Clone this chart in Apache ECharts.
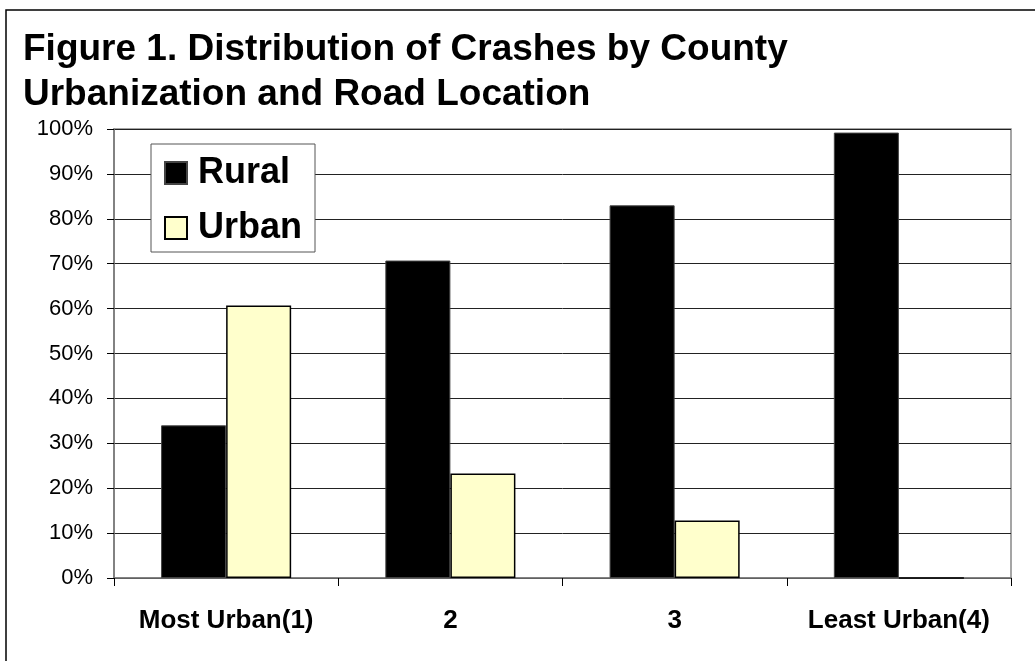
<!DOCTYPE html>
<html>
<head>
<meta charset="utf-8">
<script src="https://cdn.jsdelivr.net/npm/echarts@6/dist/echarts.min.js"></script>
<style>
html,body{margin:0;padding:0;background:#fff;}
#chart{width:1035px;height:661px;}
</style>
</head>
<body>
<div id="chart"></div>
<script>
const categories = ['Most Urban(1)', '2', '3', 'Least Urban(4)'];
const rural = [34, 70.7, 83, 99.2];
const urban = [60.7, 23.3, 12.8, 0];
const yTicks = [0, 10, 20, 30, 40, 50, 60, 70, 80, 90, 100];

const FONT = '"Liberation Sans", Arial, sans-serif';
const chart = echarts.init(document.getElementById('chart'));
chart.setOption({
  animation: false,
  backgroundColor: '#ffffff',
  textStyle: { fontFamily: FONT },
  graphic: [
    { type: 'rect', shape: { x: 6, y: 10, width: 1100, height: 700 },
      style: { fill: 'none', stroke: '#000', lineWidth: 1.5 }, z: 0 },
    { type: 'text', left: 23, top: 27,
      style: { text: 'Figure 1. Distribution of Crashes by County\nUrbanization and Road Location',
        font: 'bold 37px ' + FONT, fill: '#000', lineHeight: 45 } }
  ],
  grid: { left: 114, right: 24, top: 129, bottom: 83, show: true, borderColor: '#888', borderWidth: 1.5, backgroundColor: 'transparent' },
  legend: {
    orient: 'vertical', left: 151, top: 144,
    backgroundColor: '#fff', borderColor: '#555', borderWidth: 1,
    padding: [11, 13, 6, 13], itemGap: 19,
    itemWidth: 22, itemHeight: 22, icon: 'rect',
    textStyle: { fontSize: 36, fontWeight: 'bold', color: '#000', lineHeight: 36, padding: [0, 0, 0, 6], fontFamily: FONT },
    data: ['Rural', 'Urban']
  },
  xAxis: {
    type: 'category', data: categories,
    axisLine: { lineStyle: { color: '#777', width: 1.5 } },
    axisTick: { show: true, length: 8, lineStyle: { color: '#000' } },
    axisLabel: { interval: 0, fontSize: 26, fontWeight: 'bold', color: '#000', margin: 30, fontFamily: FONT }
  },
  yAxis: {
    type: 'value', min: 0, max: 100, interval: 10,
    axisLine: { show: true, lineStyle: { color: '#777', width: 1.5 } },
    axisTick: { show: true, length: 7, lineStyle: { color: '#000' } },
    axisLabel: { fontSize: 22, color: '#000', margin: 21, formatter: v => yTicks.includes(v) ? v + '%' : '', fontFamily: FONT },
    splitLine: { lineStyle: { color: '#222', width: 1 } }
  },
  series: [
    { name: 'Rural', type: 'bar', data: rural, barGap: '0%', barCategoryGap: '42%',
      itemStyle: { color: '#000', borderColor: '#444', borderWidth: 1 } },
    { name: 'Urban', type: 'bar', data: urban,
      itemStyle: { color: '#FFFFCC', borderColor: '#000', borderWidth: 1.5 } }
  ]
});
</script>
</body>
</html>
